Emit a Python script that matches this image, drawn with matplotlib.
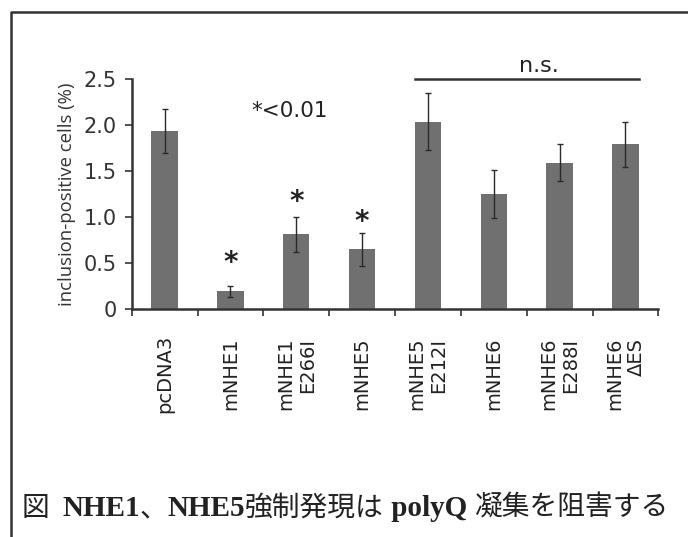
import matplotlib
matplotlib.use("Agg")
import matplotlib.pyplot as plt
from matplotlib.lines import Line2D
from matplotlib.offsetbox import TextArea, HPacker, AnchoredOffsetbox

# data
labels = ["pcDNA3", "mNHE1", "mNHE1\nE266I", "mNHE5", "mNHE5\nE212I",
          "mNHE6", "mNHE6\nE288I", "mNHE6\nΔES"]
means = [1.94, 0.19, 0.81, 0.65, 2.04, 1.25, 1.59, 1.79]
errs = [0.24, 0.06, 0.19, 0.18, 0.31, 0.26, 0.20, 0.25]
star_idx = [1, 2, 3]
star_y = [0.50, 1.16, 0.94]
yticks = [0, 0.5, 1.0, 1.5, 2.0, 2.5]
ytick_labels = ["0", "0.5", "1.0", "1.5", "2.0", "2.5"]

fig = plt.figure(figsize=(6.88, 5.37), dpi=100)
ax = fig.add_axes([0.1914, 0.4251, 0.7655, 0.4272])

x = list(range(len(means)))
ax.bar(x, means, width=0.4, color="#707070", edgecolor="none", zorder=2)
ax.errorbar(x, means, yerr=errs, fmt="none", ecolor="#2a2a2a",
            elinewidth=1.0, capsize=2.5, capthick=1.0, zorder=3)

ax.set_xlim(-0.5, 7.5)
ax.set_ylim(0, 2.5)
for s in ["top", "right"]:
    ax.spines[s].set_visible(False)
for s in ["left", "bottom"]:
    ax.spines[s].set_linewidth(1.8)
    ax.spines[s].set_color("#333333")

# boundary ticks on x, labels at bar centres
ax.set_xticks([i - 0.5 for i in range(len(means) + 1)])
ax.set_xticklabels([])
ax.set_xticks(x, minor=True)
ax.set_xticklabels(labels, minor=True, rotation=90, va="center", ha="center",
                   multialignment="right", fontsize=14, family="DejaVu Sans",
                   color="#222222")
ax.tick_params(axis="x", which="major", length=5, width=1.2, direction="out", color="#333333")
ax.tick_params(axis="x", which="minor", length=0, pad=47)

ax.set_yticks(yticks)
ax.set_yticklabels(ytick_labels, fontsize=15, family="DejaVu Sans", color="#333333")
ax.tick_params(axis="y", length=5, width=1.2, pad=6, color="#333333")
ax.set_ylabel("inclusion-positive cells (%)", fontsize=13.3, family="Open Sans",
              color="#333333", labelpad=5)

for i, yy in zip(star_idx, star_y):
    ax.text(i, yy, "*", ha="center", va="center", fontsize=20, fontweight="bold",
            family="DejaVu Sans", color="#222222")

ax.text(1.9, 2.15, "*<0.01", ha="center", va="center", fontsize=15.5,
        family="DejaVu Sans", color="#222222")

# n.s. bracket over the last four bars
ax.plot([3.8, 7.2], [2.5, 2.5], color="#333333", lw=1.8, clip_on=False)
ax.text(5.69, 2.64, "n.s.", ha="center", va="center", fontsize=16,
        family="DejaVu Sans", color="#222222")

# frame lines of the scanned panel
fig.add_artist(Line2D([10.5 / 688, 10.5 / 688, 1.0], [0.0, 1 - 12 / 537, 1 - 12 / 537],
                      transform=fig.transFigure, color="#333333", lw=1.8))

# caption: mixed Latin bold serif + Japanese
cjk = dict(family="Noto Sans CJK JP", size=20, color="#222222")
lat = dict(family="Liberation Serif", size=21, weight="bold", color="#222222")
parts = [("図  ", cjk), ("NHE1", lat), ("、", cjk), ("NHE5", lat),
         ("強制発現は", cjk), (" polyQ ", lat), ("凝集を阻害する", cjk)]
boxes = [TextArea(t, textprops=p) for t, p in parts]
pack = HPacker(children=boxes, pad=0, sep=0, align="baseline")
anchored = AnchoredOffsetbox(loc="center left", child=pack, pad=0, frameon=False,
                             bbox_to_anchor=(22 / 688, 1 - 508 / 537),
                             bbox_transform=fig.transFigure, borderpad=0)
fig.add_artist(anchored)

fig.savefig("out.png", dpi=100)
